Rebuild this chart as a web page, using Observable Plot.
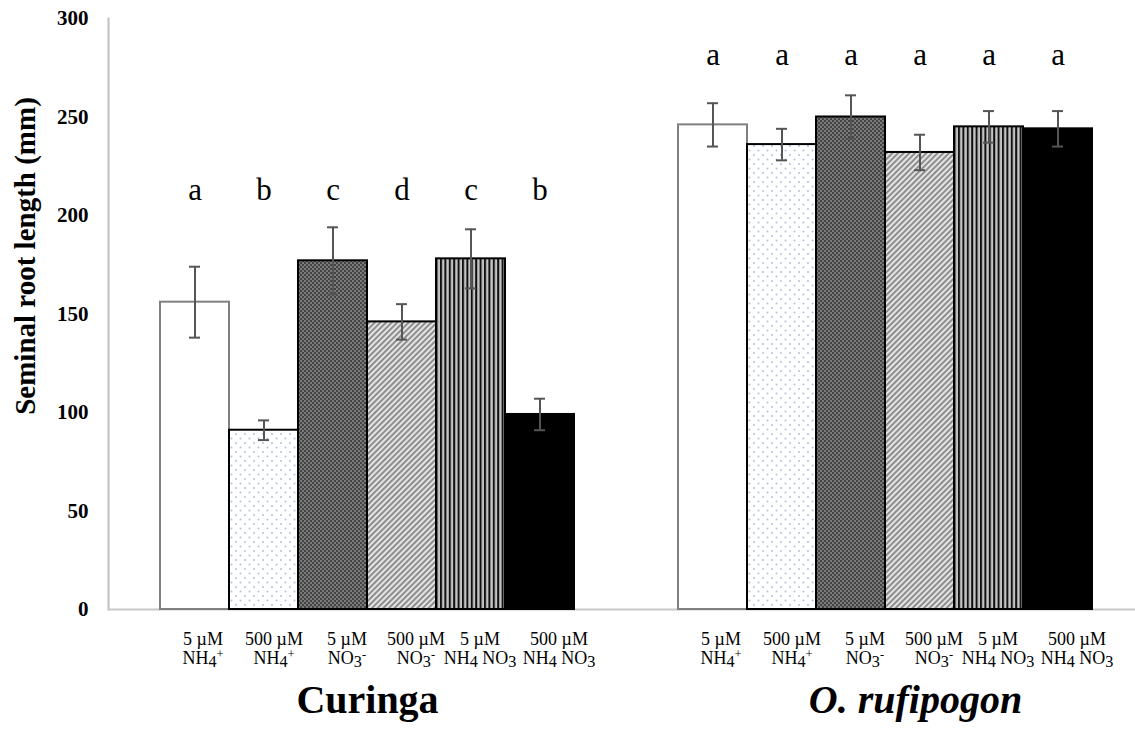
<!DOCTYPE html>
<html>
<head>
<meta charset="utf-8">
<script src="https://cdn.jsdelivr.net/npm/d3@7"></script>
<script src="https://cdn.jsdelivr.net/npm/@observablehq/plot@0.6"></script>
<style>
  body { margin: 0; background: #fff; }
</style>
</head>
<body>
<div id="chart"></div>
<script>
// Cultivars (facets) and nitrogen treatments (bars within each facet)
const groups = ["Curinga", "O. rufipogon"];
const concentrations = ["5 µM", "500 µM", "5 µM", "500 µM", "5 µM", "500 µM"];
const ions = ["NH₄⁺", "NH₄⁺", "NO₃⁻", "NO₃⁻", "NH₄ NO₃", "NH₄ NO₃"];

// Seminal root length (mm), mean ± error, with significance letters
const curingaMeans = [156, 91, 177, 146, 178, 99];
const curingaErrors = [18, 5, 17, 9, 15, 8];
const curingaLetters = ["a", "b", "c", "d", "c", "b"];

const rufipogonMeans = [246, 236, 250, 232, 245, 244];
const rufipogonErrors = [11, 8, 11, 9, 8, 9];
const rufipogonLetters = ["a", "a", "a", "a", "a", "a"];

const yTicks = [0, 50, 100, 150, 200, 250, 300];
const yLabel = "Seminal root length (mm)";

// Bar fills (SVG patterns defined below), outlines and label nudges, one per treatment
const treatmentFills = ["#ffffff", "url(#pat-dots)", "url(#pat-check)", "url(#pat-diag)", "url(#pat-vstripe)", "#000000"];
const treatmentOutlines = ["#808080", "#000000", "#000000", "#000000", "#000000", "#000000"];
const labelNudges = [8, 10, 14, 14, 9, 19];

const treatments = concentrations.map((c, i) => `${c}\n${ions[i]}`);
const means = [curingaMeans, rufipogonMeans];
const errors = [curingaErrors, rufipogonErrors];
const letters = [curingaLetters, rufipogonLetters];

const rows = groups.flatMap((group, g) =>
  treatments.map((treatment, i) => ({
    group,
    treatment,
    mean: means[g][i],
    err: errors[g][i],
    letter: letters[g][i],
    fill: treatmentFills[i],
    outline: treatmentOutlines[i]
  }))
);

const serif = "'Liberation Serif', 'Times New Roman', Times, serif";

const chart = Plot.plot({
  width: 1135,
  height: 747,
  marginTop: 18,
  marginBottom: 138,
  marginLeft: 108,
  marginRight: -9,
  style: { fontFamily: serif, background: "#fff", color: "#000" },
  fx: { domain: groups, padding: 0, axis: null, label: null },
  x: { domain: treatments, paddingInner: 0, paddingOuter: 0.75, axis: null, label: null },
  y: { domain: [0, 300] },
  color: { type: "identity" },
  marks: [
    // y axis line and baseline
    Plot.frame({ anchor: "left", facetAnchor: "left", stroke: "#bfbfbf", strokeWidth: 2 }),
    Plot.ruleY([0], { stroke: "#c8c8c8", strokeWidth: 2 }),
    Plot.axisY({
      ticks: yTicks,
      tickSize: 0,
      tickPadding: 20,
      fontSize: 21,
      fontWeight: "bold",
      label: null
    }),
    Plot.text([yLabel], {
      frameAnchor: "left",
      facetAnchor: "left",
      textAnchor: "middle",
      lineAnchor: "middle",
      rotate: -90,
      dx: -83,
      dy: -58,
      fontSize: 29,
      fontWeight: "bold"
    }),

    // bars
    Plot.barY(rows, {
      fx: "group",
      x: "treatment",
      y: "mean",
      fill: "fill",
      stroke: "outline",
      strokeWidth: 2
    }),

    // error bars
    Plot.ruleX(rows, {
      fx: "group",
      x: "treatment",
      y1: (d) => d.mean - d.err,
      y2: (d) => d.mean + d.err,
      stroke: "#555",
      strokeWidth: 2
    }),
    Plot.tickY(rows, {
      fx: "group",
      x: "treatment",
      y: (d) => d.mean + d.err,
      insetLeft: 29,
      insetRight: 29,
      stroke: "#555",
      strokeWidth: 2
    }),
    Plot.tickY(rows, {
      fx: "group",
      x: "treatment",
      y: (d) => d.mean - d.err,
      insetLeft: 29,
      insetRight: 29,
      stroke: "#555",
      strokeWidth: 2
    }),

    // significance letters
    Plot.text(rows, {
      filter: (d) => d.group === groups[0],
      fx: "group",
      x: "treatment",
      text: "letter",
      frameAnchor: "top",
      lineAnchor: "middle",
      dy: 172,
      fontSize: 31
    }),
    Plot.text(rows, {
      filter: (d) => d.group === groups[1],
      fx: "group",
      x: "treatment",
      text: "letter",
      frameAnchor: "top",
      lineAnchor: "middle",
      dy: 37,
      fontSize: 31
    }),

    // treatment labels under each bar
    ...treatments.map((t, i) =>
      Plot.text(rows, {
        filter: (d) => d.treatment === t,
        fx: "group",
        x: "treatment",
        text: "treatment",
        frameAnchor: "bottom",
        lineAnchor: "top",
        lineHeight: 1.1,
        dx: labelNudges[i],
        dy: 21,
        fontSize: 18,
        className: "treatment-label"
      })
    ),

    // cultivar names
    Plot.text([groups[0]], {
      fx: (d) => d,
      text: (d) => d,
      frameAnchor: "bottom",
      lineAnchor: "middle",
      dy: 91,
      fontSize: 40,
      fontWeight: "bold"
    }),
    Plot.text([groups[1]], {
      fx: (d) => d,
      text: (d) => d,
      frameAnchor: "bottom",
      lineAnchor: "middle",
      dx: 30,
      dy: 91,
      fontSize: 40,
      fontWeight: "bold",
      fontStyle: "italic"
    })
  ]
});

// Typeset subscript digits and ion charges as shifted tspans
const subDigits = "₀₁₂₃₄₅₆₇₈₉";
const charges = { "⁺": "+", "⁻": "-" };
d3.select(chart).selectAll(".treatment-label text tspan").each(function () {
  const s = this.textContent;
  if (!/[₀-₉⁺⁻]/.test(s)) return;
  const line = d3.select(this);
  line.text(null);
  // split the line into runs of plain, subscript and superscript characters
  const runs = [];
  for (const ch of s) {
    const k = subDigits.indexOf(ch);
    const kind = k >= 0 ? "sub" : ch in charges ? "sup" : "plain";
    const out = k >= 0 ? String(k) : ch in charges ? charges[ch] : ch;
    if (runs.length && runs[runs.length - 1].kind === kind) runs[runs.length - 1].text += out;
    else runs.push({ kind, text: out });
  }
  const shift = { plain: 0, sub: 3, sup: -6 };
  const size = { plain: null, sub: "0.9em", sup: "0.7em" };
  let offset = 0;
  for (const run of runs) {
    const ts = line.append("tspan").text(run.text);
    const dy = shift[run.kind] - offset;
    if (dy) ts.attr("dy", dy);
    if (size[run.kind]) ts.attr("font-size", size[run.kind]);
    offset = shift[run.kind];
  }
});

// Hatch and texture fills used by the bars
const defs = d3.select(chart).insert("defs", ":first-child");

const dots = defs.append("pattern")
  .attr("id", "pat-dots").attr("patternUnits", "userSpaceOnUse")
  .attr("width", 9).attr("height", 9);
dots.append("rect").attr("width", 9).attr("height", 9).attr("fill", "#fff");
dots.append("circle").attr("cx", 2).attr("cy", 2).attr("r", 1).attr("fill", "#aec2de");
dots.append("circle").attr("cx", 6.5).attr("cy", 6.5).attr("r", 1).attr("fill", "#aec2de");

const check = defs.append("pattern")
  .attr("id", "pat-check").attr("patternUnits", "userSpaceOnUse")
  .attr("width", 4).attr("height", 4);
check.append("rect").attr("width", 4).attr("height", 4).attr("fill", "#444");
check.append("rect").attr("width", 2).attr("height", 2).attr("fill", "#7a7a7a");
check.append("rect").attr("x", 2).attr("y", 2).attr("width", 2).attr("height", 2).attr("fill", "#7a7a7a");

const diag = defs.append("pattern")
  .attr("id", "pat-diag").attr("patternUnits", "userSpaceOnUse")
  .attr("width", 4).attr("height", 4)
  .attr("patternTransform", "rotate(45)");
diag.append("rect").attr("width", 4).attr("height", 4).attr("fill", "#e4e4e4");
diag.append("rect").attr("width", 2).attr("height", 4).attr("fill", "#8e8e8e");

const vstripe = defs.append("pattern")
  .attr("id", "pat-vstripe").attr("patternUnits", "userSpaceOnUse")
  .attr("width", 4.4).attr("height", 4);
vstripe.append("rect").attr("width", 4.4).attr("height", 4).attr("fill", "#c4c4c4");
vstripe.append("rect").attr("width", 2).attr("height", 4).attr("fill", "#111");

document.getElementById("chart").append(chart);
</script>
</body>
</html>
